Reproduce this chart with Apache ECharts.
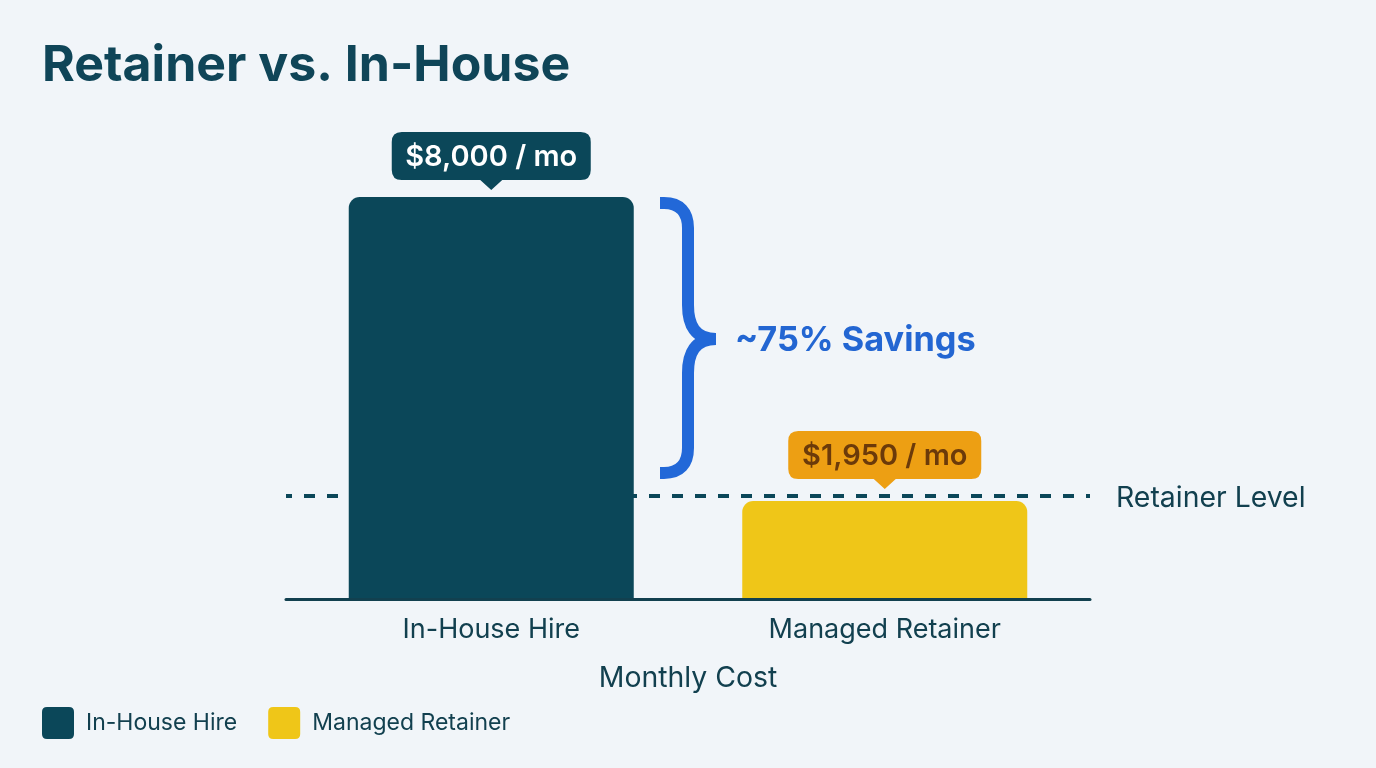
<!DOCTYPE html>
<html>
<head>
<meta charset="utf-8">
<title>Retainer vs. In-House</title>
<script src="https://cdn.jsdelivr.net/npm/echarts@6/dist/echarts.min.js"></script>
<style>
html, body { margin: 0; padding: 0; background: #f1f5f9; }
#chart { width: 1376px; height: 768px; }
</style>
</head>
<body>
<div id="chart"></div>
<script>
var categories = ['In-House Hire', 'Managed Retainer'];
var inHouseValues = [8000, null];
var retainerValues = [null, 1950];
var retainerLine = [2050, 2050];
var lineEnds = ['start', 'end'];
var savingsRange = [[8000, 2388]];

var NAVY = '#0b4759';
var YELLOW = '#efc618';
var INK = '#12404f';
var BLUE = '#2268d8';
var FONT = 'Inter';

// rounded box with a small pointer under it
function calloutPath(w) {
    var h = 48, r = 10, tip = 10, half = 11, c = w / 2;
    return 'path://M' + r + ' 0H' + (w - r) + 'Q' + w + ' 0 ' + w + ' ' + r +
        'V' + (h - r) + 'Q' + w + ' ' + h + ' ' + (w - r) + ' ' + h +
        'H' + (c + half) + 'L' + c + ' ' + (h + tip) + 'L' + (c - half) + ' ' + h +
        'H' + r + 'Q0 ' + h + ' 0 ' + (h - r) + 'V' + r + 'Q0 0 ' + r + ' 0Z';
}

function money(v) {
    return '$' + v.toLocaleString('en-US') + ' / mo';
}

// curly brace between two values, drawn as a stroke
function renderBrace(params, api) {
    var top = api.coord(['start', api.value(0)]);
    var bottom = api.coord(['start', api.value(1)]);
    var x0 = top[0] + 374;
    var y0 = top[1] + 6;
    var y1 = bottom[1] - 6;
    var mid = (y0 + y1) / 2 + 1;
    var stem = x0 + 28;
    var tip = x0 + 56;
    var d = 'M' + x0 + ' ' + y0 + 'H' + (x0 + 4) +
        'C' + (x0 + 20) + ' ' + y0 + ' ' + stem + ' ' + (y0 + 9) + ' ' + stem + ' ' + (y0 + 25) +
        'V' + (mid - 34) +
        'C' + stem + ' ' + (mid - 14) + ' ' + (stem + 7) + ' ' + mid + ' ' + tip + ' ' + mid +
        'C' + (stem + 7) + ' ' + mid + ' ' + stem + ' ' + (mid + 14) + ' ' + stem + ' ' + (mid + 34) +
        'V' + (y1 - 25) +
        'C' + stem + ' ' + (y1 - 9) + ' ' + (x0 + 20) + ' ' + y1 + ' ' + (x0 + 4) + ' ' + y1 +
        'H' + x0;
    return {
        type: 'path',
        shape: { pathData: d, x: x0, y: y0, width: tip - x0, height: y1 - y0, layout: 'cover' },
        style: { fill: 'none', stroke: BLUE, lineWidth: 12 }
    };
}

var legendIcon = 'path://M5 0H27Q32 0 32 5V27Q32 32 27 32H5Q0 32 0 27V5Q0 0 5 0Z';

var myChart = echarts.init(document.getElementById('chart'), null, { renderer: 'canvas' });

myChart.setOption({
    animation: false,
    backgroundColor: '#f1f5f9',
    textStyle: { fontFamily: FONT },
    title: {
        text: 'Retainer vs. In-House',
        left: 42,
        top: 41,
        padding: 0,
        textStyle: { fontFamily: FONT, fontSize: 50, fontWeight: 700, color: '#0f4558' }
    },
    legend: {
        left: 42,
        top: 707,
        padding: 0,
        itemWidth: 32,
        itemHeight: 32,
        itemGap: 31,
        icon: legendIcon,
        data: ['In-House Hire', 'Managed Retainer'],
        textStyle: { fontFamily: FONT, fontSize: 23, color: INK, padding: [7, 0, 0, 7] }
    },
    grid: [
        { left: 294.5, top: 197, width: 787, height: 402 },
        { left: 286, top: 197, width: 804, height: 402 }
    ],
    xAxis: [{
        type: 'category',
        gridIndex: 0,
        data: categories,
        name: 'Monthly Cost',
        nameLocation: 'middle',
        nameGap: 65,
        nameTextStyle: { fontFamily: FONT, fontSize: 28.4, color: INK },
        axisLine: { show: false },
        axisTick: { show: false },
        axisLabel: { fontFamily: FONT, fontSize: 27, color: INK, margin: 17 }
    }, {
        type: 'category',
        gridIndex: 1,
        data: lineEnds,
        boundaryGap: false,
        z: 3,
        axisLine: { lineStyle: { color: INK, width: 3 } },
        axisTick: { show: false },
        axisLabel: { show: false }
    }],
    yAxis: [
        { type: 'value', gridIndex: 0, min: 0, max: 8000, show: false },
        { type: 'value', gridIndex: 1, min: 0, max: 8000, show: false }
    ],
    series: [{
        name: 'Retainer Level',
        type: 'line',
        xAxisIndex: 1,
        yAxisIndex: 1,
        z: 1,
        symbol: 'none',
        data: retainerLine,
        lineStyle: { color: NAVY, width: 4, type: [11, 12], dashOffset: 5 },
        endLabel: {
            show: true,
            formatter: '{a}',
            distance: 26,
            offset: [0, 2],
            fontFamily: FONT,
            fontSize: 28.4,
            color: INK
        }
    }, {
        name: 'In-House Hire',
        type: 'bar',
        stack: 'cost',
        z: 2,
        barWidth: 285,
        data: inHouseValues,
        itemStyle: { color: NAVY, borderRadius: [11, 11, 0, 0] },
        markPoint: {
            silent: true,
            data: [{
                coord: [categories[0], inHouseValues[0]],
                value: inHouseValues[0],
                symbol: calloutPath(199),
                symbolSize: [199, 58],
                symbolOffset: [0, -36],
                itemStyle: { color: NAVY },
                label: {
                    show: true,
                    formatter: money(inHouseValues[0]),
                    offset: [0, -4],
                    fontFamily: FONT,
                    fontSize: 29,
                    fontWeight: 600,
                    color: '#ffffff'
                }
            }]
        }
    }, {
        name: 'Managed Retainer',
        type: 'bar',
        stack: 'cost',
        z: 2,
        barWidth: 285,
        data: retainerValues,
        itemStyle: { color: YELLOW, borderRadius: [11, 11, 0, 0] },
        markPoint: {
            silent: true,
            data: [{
                coord: [categories[1], retainerValues[1]],
                value: retainerValues[1],
                symbol: calloutPath(193),
                symbolSize: [193, 58],
                symbolOffset: [0, -41],
                itemStyle: { color: '#ed9f13' },
                label: {
                    show: true,
                    formatter: money(retainerValues[1]),
                    offset: [0, -4],
                    fontFamily: FONT,
                    fontSize: 29,
                    fontWeight: 600,
                    color: '#6b3a0a'
                }
            }]
        }
    }, {
        name: 'Savings',
        type: 'custom',
        xAxisIndex: 1,
        yAxisIndex: 1,
        silent: true,
        clip: false,
        data: savingsRange,
        encode: { x: -1, y: [0, 1] },
        renderItem: renderBrace
    }],
    graphic: [{
        type: 'text',
        left: 735,
        top: 324,
        style: {
            text: '~75% Savings',
            fontFamily: FONT,
            fontSize: 34.3,
            fontWeight: 700,
            fill: '#2366d2'
        }
    }]
});
</script>
</body>
</html>
